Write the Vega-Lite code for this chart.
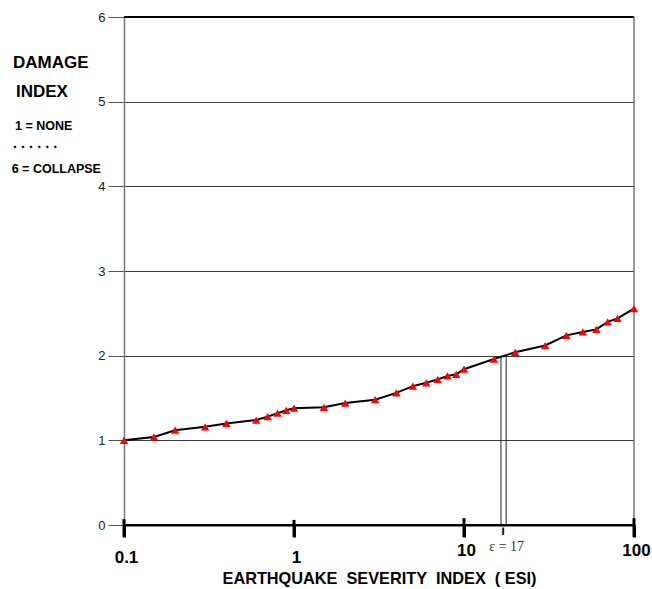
{
  "$schema": "https://vega.github.io/schema/vega-lite/v6.json",
  "width": 510,
  "height": 508,
  "autosize": {"type": "none"},
  "padding": {"left": 124, "top": 17, "right": 18, "bottom": 64},
  "background": "white",
  "config": {
    "font": "Liberation Sans",
    "view": {"stroke": null},
    "axisX": {
      "grid": false,
      "domain": true, "domainColor": "black", "domainWidth": 2,
      "ticks": true, "tickColor": "black", "tickWidth": 3, "tickSize": 12,
      "labelFont": "Liberation Sans", "labelFontSize": 17, "labelFontWeight": "bold", "labelColor": "black",
      "labelOffset": 2, "labelFlush": false, "labelOverlap": false,
      "titleFontSize": 16.3, "titleFontWeight": "bold", "titleColor": "black",
      "titleBaseline": "alphabetic", "titleY": 58
    },
    "axisY": {
      "grid": true, "gridColor": "#3a3a3a", "gridWidth": 1,
      "domain": true, "domainColor": "#777", "domainWidth": 1.5,
      "ticks": true, "tickColor": "#555", "tickWidth": 1, "tickSize": 16,
      "labelFont": "Liberation Sans", "labelFontSize": 13, "labelColor": "#222", "labelPadding": 3
    }
  },
  "datasets": {
    "pts": [
      {"esi": 0.1, "di": 1.0},
      {"esi": 0.15, "di": 1.04},
      {"esi": 0.2, "di": 1.12},
      {"esi": 0.3, "di": 1.16},
      {"esi": 0.4, "di": 1.2},
      {"esi": 0.6, "di": 1.24},
      {"esi": 0.7, "di": 1.28},
      {"esi": 0.8, "di": 1.32},
      {"esi": 0.9, "di": 1.355},
      {"esi": 1, "di": 1.38},
      {"esi": 1.5, "di": 1.39},
      {"esi": 2, "di": 1.44},
      {"esi": 3, "di": 1.48},
      {"esi": 4, "di": 1.56},
      {"esi": 5, "di": 1.64},
      {"esi": 6, "di": 1.68},
      {"esi": 7, "di": 1.72},
      {"esi": 8, "di": 1.76},
      {"esi": 9, "di": 1.78},
      {"esi": 10, "di": 1.84},
      {"esi": 15, "di": 1.96},
      {"esi": 20, "di": 2.04},
      {"esi": 30, "di": 2.12},
      {"esi": 40, "di": 2.24},
      {"esi": 50, "di": 2.28},
      {"esi": 60, "di": 2.31},
      {"esi": 70, "di": 2.4},
      {"esi": 80, "di": 2.44},
      {"esi": 100, "di": 2.555}
    ],
    "eps": [
      {"esi": 16.5, "di": 0, "hi": 2},
      {"esi": 17.7, "di": 0, "hi": 2}
    ],
    "majorticks": [
      {"esi": 0.1, "di": 0.07, "lo": -0.142},
      {"esi": 1, "di": 0.06, "lo": -0.142},
      {"esi": 10, "di": 0.08, "lo": -0.142},
      {"esi": 100, "di": 0.08, "lo": -0.142}
    ],
    "one": [{}]
  },
  "layer": [
    {
      "data": {"name": "pts"},
      "mark": {"type": "line", "color": "black", "strokeWidth": 2},
      "encoding": {
        "x": {
          "field": "esi", "type": "quantitative",
          "scale": {"type": "log", "domain": [0.1, 100], "nice": false},
          "axis": {
            "values": [0.1, 1, 10, 100],
            "format": "~g",
            "tickWidth": 3, "tickColor": "black",
            "labelFontSize": 17, "labelFontWeight": "bold",
            "labelPadding": {"condition": {"test": "datum.value >= 10", "value": 5}, "value": 12},
            "title": "EARTHQUAKE\u00a0 SEVERITY\u00a0 INDEX\u00a0 ( ESI)"
          }
        },
        "y": {
          "field": "di", "type": "quantitative",
          "scale": {"domain": [0, 6], "nice": false, "zero": true},
          "axis": {
            "values": [0, 1, 2, 3, 4, 5, 6],
            "format": "d",
            "labelFontSize": 13,
            "title": null
          }
        }
      }
    },
    {
      "data": {"name": "eps"},
      "mark": {"type": "rule", "color": "#222", "strokeWidth": 1},
      "encoding": {
        "x": {"field": "esi", "type": "quantitative"},
        "y": {"field": "di", "type": "quantitative"},
        "y2": {"field": "hi"}
      }
    },
    {
      "data": {"name": "one"},
      "mark": {"type": "rule", "color": "black", "strokeWidth": 2},
      "encoding": {
        "x": {"datum": 0.1, "type": "quantitative"},
        "x2": {"datum": 100},
        "y": {"datum": 6, "type": "quantitative"}
      }
    },
    {
      "data": {"name": "one"},
      "mark": {"type": "rule", "color": "black", "strokeWidth": 2},
      "encoding": {
        "x": {"datum": 0.1, "type": "quantitative"},
        "x2": {"datum": 100},
        "y": {"datum": 0, "type": "quantitative"}
      }
    },
    {
      "data": {"name": "one"},
      "mark": {"type": "rule", "color": "#777", "strokeWidth": 1.5},
      "encoding": {
        "x": {"datum": 100, "type": "quantitative"},
        "y": {"datum": 0, "type": "quantitative"},
        "y2": {"datum": 6}
      }
    },
    {
      "data": {"name": "majorticks"},
      "mark": {"type": "rule", "color": "black", "strokeWidth": 3},
      "encoding": {
        "x": {"field": "esi", "type": "quantitative"},
        "y": {"field": "di", "type": "quantitative"},
        "y2": {"field": "lo"}
      }
    },
    {
      "data": {"name": "one"},
      "mark": {"type": "rule", "color": "#222", "strokeWidth": 2},
      "encoding": {
        "x": {"datum": 17, "type": "quantitative"},
        "y": {"datum": -0.03, "type": "quantitative"},
        "y2": {"datum": -0.118}
      }
    },
    {
      "data": {"name": "pts"},
      "mark": {"type": "point", "shape": "triangle-up", "filled": true, "color": "#ff0000", "size": 70, "opacity": 1, "strokeWidth": 0},
      "encoding": {
        "x": {"field": "esi", "type": "quantitative"},
        "y": {"field": "di", "type": "quantitative"}
      }
    },
    {
      "data": {"name": "one"},
      "mark": {"type": "text", "text": "ε = 17", "font": "Liberation Serif", "fontSize": 14, "color": "#333", "align": "center", "baseline": "alphabetic", "dx": 3.5, "dy": 25.7},
      "encoding": {
        "x": {"datum": 17, "type": "quantitative"},
        "y": {"datum": 0, "type": "quantitative"}
      }
    },
    {
      "data": {"name": "one"},
      "mark": {"type": "text", "text": "DAMAGE", "fontSize": 17, "fontWeight": "bold", "color": "black", "align": "left", "baseline": "alphabetic", "dx": -111},
      "encoding": {
        "x": {"datum": 0.1, "type": "quantitative"},
        "y": {"datum": 5.394, "type": "quantitative"}
      }
    },
    {
      "data": {"name": "one"},
      "mark": {"type": "text", "text": "INDEX", "fontSize": 17, "fontWeight": "bold", "color": "black", "align": "left", "baseline": "alphabetic", "dx": -108},
      "encoding": {
        "x": {"datum": 0.1, "type": "quantitative"},
        "y": {"datum": 5.058, "type": "quantitative"}
      }
    },
    {
      "data": {"name": "one"},
      "mark": {"type": "text", "text": "1 = NONE", "fontSize": 12.5, "fontWeight": "bold", "color": "black", "align": "left", "baseline": "alphabetic", "dx": -109},
      "encoding": {
        "x": {"datum": 0.1, "type": "quantitative"},
        "y": {"datum": 4.665, "type": "quantitative"}
      }
    },
    {
      "data": {"name": "one"},
      "mark": {"type": "text", "text": ". . . . . .", "fontSize": 14.5, "fontWeight": "bold", "color": "black", "align": "left", "baseline": "alphabetic", "dx": -111},
      "encoding": {
        "x": {"datum": 0.1, "type": "quantitative"},
        "y": {"datum": 4.453, "type": "quantitative"}
      }
    },
    {
      "data": {"name": "one"},
      "mark": {"type": "text", "text": "6 = COLLAPSE", "fontSize": 12.5, "fontWeight": "bold", "color": "black", "align": "left", "baseline": "alphabetic", "dx": -112.3},
      "encoding": {
        "x": {"datum": 0.1, "type": "quantitative"},
        "y": {"datum": 4.154, "type": "quantitative"}
      }
    }
  ]
}
